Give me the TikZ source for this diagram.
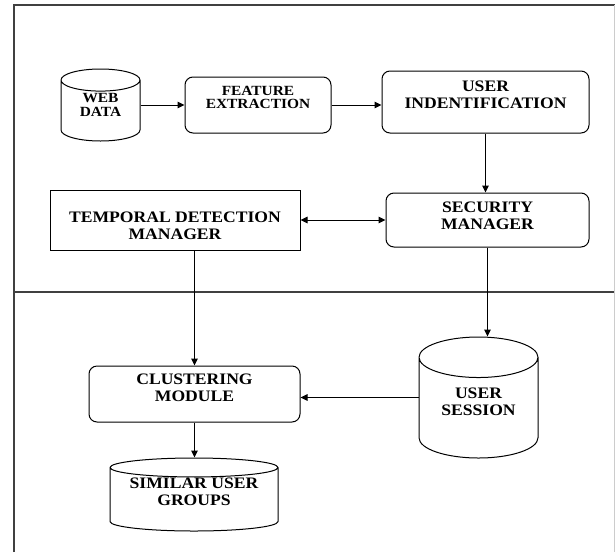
\documentclass[tikz,border=0pt]{standalone}
\usepackage{fontspec}
\setmainfont{Liberation Serif}[FakeStretch=1.1]
\usetikzlibrary{arrows.meta,shapes.geometric}

\tikzset{
  frame/.style={draw=black!75, line width=1.2pt},
  big/.style={font=\bfseries\fontsize{16}{17}\selectfont},
  small/.style={font=\bfseries\fontsize{14}{13.5}\selectfont},
  proc/.style={draw, rounded corners=8pt, line width=1pt, align=center, big},
  plain/.style={draw, line width=1pt, align=center, big},
  store/.style={draw, cylinder, shape border rotate=90, anchor=shape center, line width=1pt, align=center, big},
  link/.style={line width=1pt, -{Triangle[length=7pt,width=6.5pt]}},
}

\begin{document}
\begin{tikzpicture}[x=1pt,y=-1pt]
  \useasboundingbox (0,0) rectangle (615,552);
  % frame
  \draw[frame] (14,552) -- (14,5) -- (615,5);
  \draw[frame] (14,292) -- (615,292);
  \draw[draw=black!20, line width=0.8pt] (614,5) -- (614,552);

  % upper part
  \node[store, small, minimum width=79pt, minimum height=72pt, aspect=0.46, text height=7pt] (webdata) at (100.5,105) {WEB\\DATA};
  \node[proc, small, minimum width=146pt, minimum height=56pt, text depth=15pt] (feature) at (258,105) {FEATURE\\EXTRACTION};
  \node[proc, minimum width=207pt, minimum height=62pt, text depth=14pt] (user) at (485.5,102) {USER\\INDENTIFICATION};
  \node[proc, minimum width=203pt, minimum height=54pt, text depth=9pt] (security) at (487.5,220) {SECURITY\\MANAGER};
  \node[plain, minimum width=250pt, minimum height=60pt, text height=40pt] (temporal) at (175,220) {TEMPORAL DETECTION\\MANAGER};

  % lower part
  \node[proc, minimum width=211pt, minimum height=56pt, text depth=13pt] (cluster) at (194.5,394) {CLUSTERING\\MODULE};
  \node[store, minimum width=119pt, minimum height=121pt, aspect=0.5, text height=8pt] (session) at (478.5,397.5) {USER\\SESSION};
  \node[store, minimum width=168pt, minimum height=73pt, aspect=0.14, text height=9pt] (groups) at (194,494.5) {SIMILAR USER\\GROUPS};

  % connectors
  \draw[link] (webdata.east |- webdata.shape center) -- (feature.west |- webdata.shape center);
  \draw[link] (feature.east) -- (feature.east -| user.west);
  \draw[link] (user) -- (user |- security.north);
  \draw[link, {Triangle[length=7pt,width=6.5pt]}-{Triangle[length=7pt,width=6.5pt]}] (temporal) -- (security);
  \draw[link] (cluster.north |- temporal.south) -- (cluster.north);
  \draw[link] (security.south) -- (security.south |- session.north);
  \draw[link] (session.west |- session.shape center) -- (cluster.east |- session.shape center);
  \draw[link] (cluster) -- (cluster |- groups.north);
\end{tikzpicture}
\end{document}
